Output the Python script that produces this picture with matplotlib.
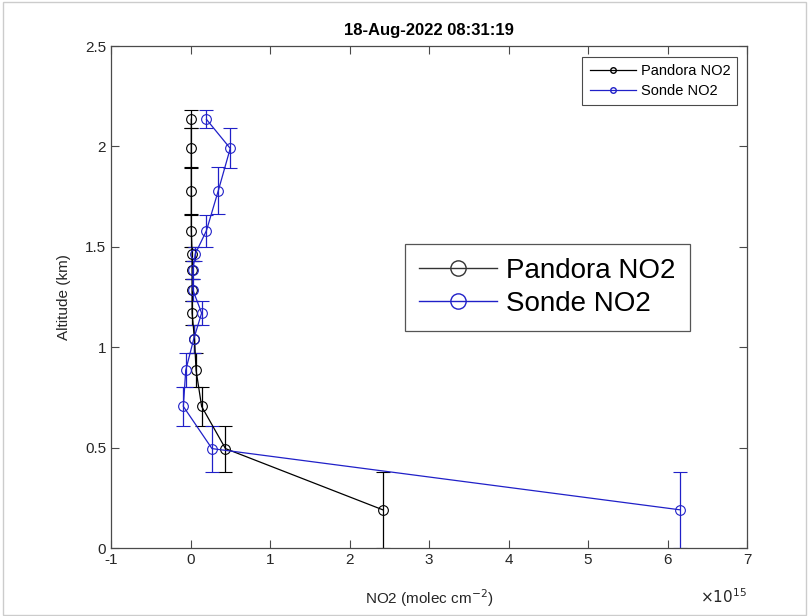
import numpy as np
import matplotlib.pyplot as plt
from matplotlib.lines import Line2D
from matplotlib.patches import Rectangle
from matplotlib.ticker import FormatStrFormatter

plt.rcParams['font.family'] = ['Liberation Sans', 'DejaVu Sans']

# Layer centre altitudes (km) and half layer thickness (km)
altitude = [0.19, 0.495, 0.705, 0.885, 1.04, 1.17, 1.285, 1.385, 1.465, 1.58, 1.78, 1.99, 2.135]
alt_halfwidth = [0.19, 0.115, 0.095, 0.085, 0.07, 0.06, 0.055, 0.045, 0.035, 0.08, 0.115, 0.1, 0.045]

# Partial NO2 columns per layer (units of 1e15 molec cm^-2)
pandora_no2 = [2.42, 0.44, 0.14, 0.07, 0.05, 0.02, 0.02, 0.02, 0.02, 0.01, 0.01, 0.01, 0.01]
sonde_no2 = [6.16, 0.27, -0.09, -0.06, 0.04, 0.14, 0.03, 0.03, 0.06, 0.20, 0.35, 0.50, 0.20]

title_str = '18-Aug-2022 08:31:19'
x_ticks = [-1, 0, 1, 2, 3, 4, 5, 6, 7]
y_ticks = [0, 0.5, 1, 1.5, 2, 2.5]

blue = '#2020c8'
axcol = '#4a4a4a'
txtcol = '#262626'

fig = plt.figure(figsize=(8.08, 6.16), dpi=100)
ax = fig.add_axes([111 / 808, 68 / 616, 636 / 808, 502 / 616])

ax.errorbar(pandora_no2, altitude, yerr=alt_halfwidth, fmt='-o', color='black', mfc='none',
            ms=7, mew=0.8, lw=0.9, elinewidth=0.9, capsize=5, capthick=0.9)
ax.errorbar(sonde_no2, altitude, yerr=alt_halfwidth, fmt='-o', color=blue, mfc='none',
            ms=7, mew=0.8, lw=0.9, elinewidth=0.9, capsize=5, capthick=0.9)

ax.set_xlim(-1, 7)
ax.set_ylim(0, 2.5)
ax.set_xticks(x_ticks)
ax.set_yticks(y_ticks)
ax.yaxis.set_major_formatter(FormatStrFormatter('%g'))
ax.xaxis.set_major_formatter(FormatStrFormatter('%g'))

ax.tick_params(direction='in', top=True, right=True, length=6, width=0.8,
               labelsize=11, colors=axcol, labelcolor=txtcol)
for s in ax.spines.values():
    s.set_color(axcol)
    s.set_linewidth(0.9)

ax.set_title(title_str, fontsize=12, fontweight='bold', pad=8)
ax.set_xlabel('NO2 (molec cm$^{-2}$)', fontsize=11, color=txtcol, labelpad=15)
ax.set_ylabel('Altitude (km)', fontsize=11, color=txtcol, labelpad=10)
# exponent of the x axis
ax.text(1.0, -0.097, r'$\times10^{15}$', transform=ax.transAxes, ha='right', va='center',
        fontsize=11, color=txtcol)

# small legend in upper right corner
small_handles = [Line2D([], [], color='black', marker='o', mfc='none', ms=4, lw=0.9),
                 Line2D([], [], color=blue, marker='o', mfc='none', ms=4, lw=0.9)]
leg1 = ax.legend(small_handles, ['Pandora NO2', 'Sonde NO2'], loc='upper right',
                 bbox_to_anchor=(0.985, 0.978), fontsize=10.5, fancybox=False,
                 edgecolor=axcol, framealpha=1, handlelength=3.2, handletextpad=0.3,
                 borderpad=0.5, labelspacing=0.4, borderaxespad=0)
leg1.get_frame().set_linewidth(0.8)
ax.add_artist(leg1)

# large legend in the middle of the plot
big_handles = [Line2D([], [], color='#333333', marker='o', mfc='none', ms=11, lw=1.0),
               Line2D([], [], color=blue, marker='o', mfc='none', ms=11, lw=1.0)]
leg2 = ax.legend(big_handles, ['Pandora NO2', 'Sonde NO2'], loc='upper left',
                 bbox_to_anchor=((405 - 111) / 636, (548 - 244) / 502), fontsize=20,
                 fancybox=False, edgecolor='#555555', framealpha=1, handlelength=2.8,
                 handletextpad=0.35, borderpad=0.5, labelspacing=0.25, borderaxespad=0)
leg2.get_frame().set_linewidth(0.9)

fig.patches.append(Rectangle((3 / 808, 1 / 616), 803 / 808, 613 / 616,
                             transform=fig.transFigure, fill=False,
                             edgecolor='#cccccc', lw=1))

fig.savefig('out.png', dpi=100)
